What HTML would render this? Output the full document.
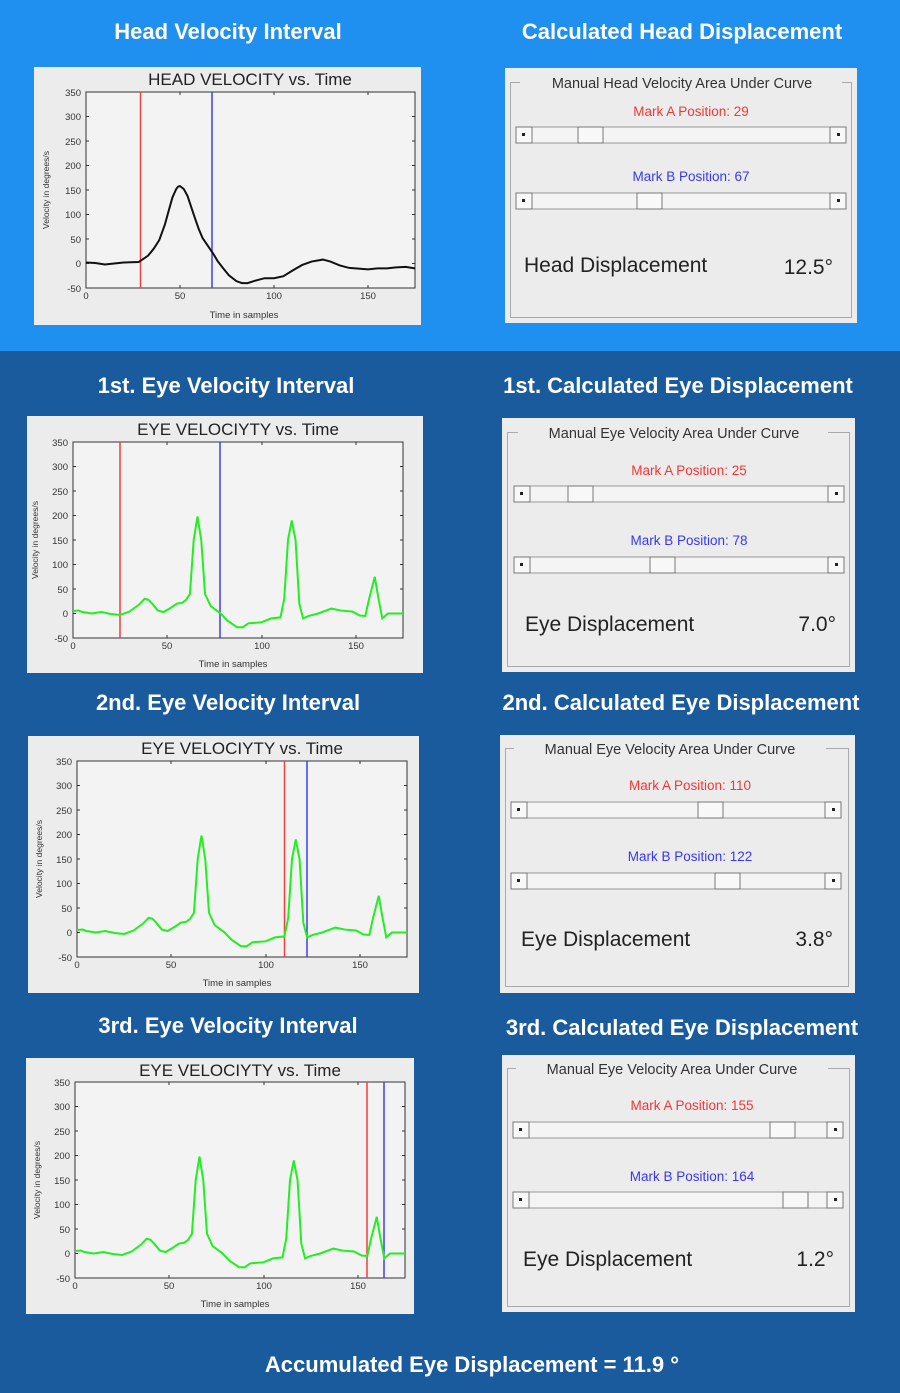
<!DOCTYPE html>
<html><head><meta charset="utf-8"><style>
html,body{margin:0;padding:0;width:900px;height:1393px;overflow:hidden;background:#1a5b9e}
svg{position:absolute;left:0;top:0;font-family:"Liberation Sans",sans-serif}
</style></head><body>
<svg width="900" height="1393" viewBox="0 0 900 1393">
<rect x="0" y="0" width="900" height="1393" fill="#1a5b9e"/>
<rect x="0" y="0" width="900" height="351" fill="#1f90f0"/>

<g fill="#fff" font-weight="bold" font-size="22" text-anchor="middle">
<text x="228" y="39">Head Velocity Interval</text>
<text x="682" y="39">Calculated Head Displacement</text>
<text x="226" y="393">1st. Eye Velocity Interval</text>
<text x="678" y="393">1st. Calculated Eye Displacement</text>
<text x="228" y="710">2nd. Eye Velocity Interval</text>
<text x="681" y="710">2nd. Calculated Eye Displacement</text>
<text x="228" y="1033">3rd. Eye Velocity Interval</text>
<text x="682" y="1035">3rd. Calculated Eye Displacement</text>
<text x="472" y="1372">Accumulated Eye Displacement = 11.9 °</text>
</g>

<g>
<rect x="34" y="67" width="387" height="258" fill="#ececec"/>
<rect x="86" y="92" width="329" height="196" fill="#f3f3f3" stroke="#333" stroke-width="1"/>
<text x="250" y="85" font-size="17" text-anchor="middle" fill="#222">HEAD VELOCITY vs. Time</text>
<g font-size="9.5" fill="#333" text-anchor="end">
<text x="81" y="96">350</text><text x="81" y="120">300</text><text x="81" y="145">250</text><text x="81" y="169">200</text><text x="81" y="194">150</text><text x="81" y="218">100</text><text x="81" y="243">50</text><text x="81" y="267">0</text><text x="81" y="292">-50</text>
</g>
<g font-size="9.5" fill="#333" text-anchor="middle">
<text x="86" y="299">0</text><text x="180" y="299">50</text><text x="274" y="299">100</text><text x="368" y="299">150</text>
<text x="244" y="318">Time in samples</text>
</g>
<text transform="translate(49,190) rotate(-90)" font-size="8.5" fill="#333" text-anchor="middle">Velocity in degrees/s</text>
<path stroke="#333" d="M86 116.5h3M86 141h3M86 165.5h3M86 190h3M86 214.5h3M86 239h3M86 263.5h3M415 116.5h-3M415 141h-3M415 165.5h-3M415 190h-3M415 214.5h-3M415 239h-3M415 263.5h-3M180 288v-3M274 288v-3M368 288v-3M180 92v3M274 92v3M368 92v3"/>
<line x1="140.5" y1="92" x2="140.5" y2="288" stroke="#f04040" stroke-width="1.5"/>
<line x1="212" y1="92" x2="212" y2="288" stroke="#4040f0" stroke-width="1.5"/>
<g transform="translate(86,288) scale(1.88,-0.49) translate(0,50)">
<polyline vector-effect="non-scaling-stroke" fill="none" stroke="#111" stroke-width="2" points="0,2 5,1 10,-2 15,0 20,2 28,3 30,8 33,16 36,30 39,48 42,80 44,108 46,135 48,152 49,157 50,158 52,152 54,138 56,115 58,92 60,70 62,52 65,35 68,18 70,5 73,-10 76,-24 80,-36 83,-40 86,-40 90,-35 95,-30 100,-30 105,-26 110,-14 115,-3 120,4 126,8 130,4 135,-4 140,-9 150,-12 155,-10 160,-10 165,-8 170,-7 175,-10"/>
</g>
</g>

<g>
<rect x="27" y="416" width="396" height="257" fill="#ececec"/>
<rect x="73" y="442" width="330" height="196" fill="#f3f3f3" stroke="#333"/>
<text x="238" y="435" font-size="17" text-anchor="middle" fill="#222">EYE VELOCIYTY vs. Time</text>
<g font-size="9.5" fill="#333" text-anchor="end">
<text x="68" y="446">350</text><text x="68" y="470">300</text><text x="68" y="495">250</text><text x="68" y="519">200</text><text x="68" y="544">150</text><text x="68" y="568">100</text><text x="68" y="593">50</text><text x="68" y="617">0</text><text x="68" y="642">-50</text>
</g>
<g font-size="9.5" fill="#333" text-anchor="middle">
<text x="73" y="649">0</text><text x="167" y="649">50</text><text x="262" y="649">100</text><text x="356" y="649">150</text>
<text x="233" y="667">Time in samples</text>
</g>
<text transform="translate(38,540) rotate(-90)" font-size="8.5" fill="#333" text-anchor="middle">Velocity in degrees/s</text>
<path stroke="#333" d="M73 466.5h3M73 491h3M73 515.5h3M73 540h3M73 564.5h3M73 589h3M73 613.5h3M403 466.5h-3M403 491h-3M403 515.5h-3M403 540h-3M403 564.5h-3M403 589h-3M403 613.5h-3M167 638v-3M262 638v-3M356 638v-3M167 442v3M262 442v3M356 442v3"/>
<line x1="120" y1="442" x2="120" y2="638" stroke="#f04040" stroke-width="1.5"/>
<line x1="220" y1="442" x2="220" y2="638" stroke="#4040f0" stroke-width="1.5"/>
<g transform="translate(73,638) scale(1.886,-0.49) translate(0,50)">
<polyline id="eye" vector-effect="non-scaling-stroke" fill="none" stroke="#22ee22" stroke-width="2" points="0,5 3,6 5,3 10,0 15,3 20,-1 25,-3 30,4 35,18 38,30 40,28 42,20 45,6 48,3 52,12 55,20 58,22 60,28 62,40 64,150 66,198 68,150 70,40 73,15 78,1 82,-15 87,-28 90,-28 93,-20 100,-18 105,-10 110,-8 112,30 114,150 116,190 118,150 120,20 122,-10 125,-5 130,0 137,10 142,6 148,4 152,-4 155,-5 157,30 160,75 162,30 164,-10 167,0 175,0"/>
</g>
</g>

<g>
<rect x="28" y="736" width="391" height="257" fill="#ececec"/>
<rect x="77" y="761" width="330" height="196" fill="#f3f3f3" stroke="#333"/>
<text x="242" y="754" font-size="17" text-anchor="middle" fill="#222">EYE VELOCIYTY vs. Time</text>
<g font-size="9.5" fill="#333" text-anchor="end">
<text x="72" y="765">350</text><text x="72" y="789">300</text><text x="72" y="814">250</text><text x="72" y="838">200</text><text x="72" y="863">150</text><text x="72" y="887">100</text><text x="72" y="912">50</text><text x="72" y="936">0</text><text x="72" y="961">-50</text>
</g>
<g font-size="9.5" fill="#333" text-anchor="middle">
<text x="77" y="968">0</text><text x="171" y="968">50</text><text x="266" y="968">100</text><text x="360" y="968">150</text>
<text x="237" y="986">Time in samples</text>
</g>
<text transform="translate(42,859) rotate(-90)" font-size="8.5" fill="#333" text-anchor="middle">Velocity in degrees/s</text>
<path stroke="#333" d="M77 785.5h3M77 810h3M77 834.5h3M77 859h3M77 883.5h3M77 908h3M77 932.5h3M407 785.5h-3M407 810h-3M407 834.5h-3M407 859h-3M407 883.5h-3M407 908h-3M407 932.5h-3M171 957v-3M266 957v-3M360 957v-3M171 761v3M266 761v3M360 761v3"/>
<line x1="284.5" y1="761" x2="284.5" y2="957" stroke="#f04040" stroke-width="1.5"/>
<line x1="307" y1="761" x2="307" y2="957" stroke="#4040f0" stroke-width="1.5"/>
<g transform="translate(77,957) scale(1.886,-0.49) translate(0,50)"><use href="#eye"/></g>
</g>

<g>
<rect x="26" y="1058" width="388" height="256" fill="#ececec"/>
<rect x="75" y="1082" width="330" height="196" fill="#f3f3f3" stroke="#333"/>
<text x="240" y="1076" font-size="17" text-anchor="middle" fill="#222">EYE VELOCIYTY vs. Time</text>
<g font-size="9.5" fill="#333" text-anchor="end">
<text x="70" y="1086">350</text><text x="70" y="1110">300</text><text x="70" y="1135">250</text><text x="70" y="1159">200</text><text x="70" y="1184">150</text><text x="70" y="1208">100</text><text x="70" y="1233">50</text><text x="70" y="1257">0</text><text x="70" y="1282">-50</text>
</g>
<g font-size="9.5" fill="#333" text-anchor="middle">
<text x="75" y="1289">0</text><text x="169" y="1289">50</text><text x="264" y="1289">100</text><text x="358" y="1289">150</text>
<text x="235" y="1307">Time in samples</text>
</g>
<text transform="translate(40,1180) rotate(-90)" font-size="8.5" fill="#333" text-anchor="middle">Velocity in degrees/s</text>
<path stroke="#333" d="M75 1106.5h3M75 1131h3M75 1155.5h3M75 1180h3M75 1204.5h3M75 1229h3M75 1253.5h3M405 1106.5h-3M405 1131h-3M405 1155.5h-3M405 1180h-3M405 1204.5h-3M405 1229h-3M405 1253.5h-3M169 1278v-3M264 1278v-3M358 1278v-3M169 1082v3M264 1082v3M358 1082v3"/>
<line x1="367" y1="1082" x2="367" y2="1278" stroke="#f04040" stroke-width="1.5"/>
<line x1="384" y1="1082" x2="384" y2="1278" stroke="#4040f0" stroke-width="1.5"/>
<g transform="translate(75,1278) scale(1.886,-0.49) translate(0,50)"><use href="#eye"/></g>
</g>

<g font-size="14.5" fill="#333">
<rect x="505" y="68" width="352" height="255" fill="#ececec"/>
<rect x="510.5" y="82.5" width="341" height="235" fill="none" stroke="#aaa"/>
<rect x="520" y="72" width="322" height="20" fill="#ececec"/>
<text x="682" y="88" text-anchor="middle">Manual Head Velocity Area Under Curve</text>
<text x="691" y="116" text-anchor="middle" fill="#f03838" font-size="13.5">Mark A Position: 29</text>
<text x="691" y="181" text-anchor="middle" fill="#3838f0" font-size="13.5">Mark B Position: 67</text>
<text x="524" y="272" font-size="21" fill="#222">Head Displacement</text>
<text x="833" y="274" font-size="21" fill="#222" text-anchor="end">12.5°</text>
<rect x="502" y="418" width="353" height="254" fill="#ececec"/>
<rect x="507.5" y="432.5" width="342" height="234" fill="none" stroke="#aaa"/>
<rect x="518" y="422" width="310" height="20" fill="#ececec"/>
<text x="674" y="438" text-anchor="middle">Manual Eye Velocity Area Under Curve</text>
<text x="689" y="475" text-anchor="middle" fill="#f03838" font-size="13.5">Mark A Position: 25</text>
<text x="689" y="545" text-anchor="middle" fill="#3838f0" font-size="13.5">Mark B Position: 78</text>
<text x="525" y="631" font-size="21" fill="#222">Eye Displacement</text>
<text x="836" y="631" font-size="21" fill="#222" text-anchor="end">7.0°</text>
<rect x="500" y="735" width="355" height="258" fill="#ececec"/>
<rect x="505.5" y="748.5" width="343" height="238" fill="none" stroke="#aaa"/>
<rect x="514" y="738" width="312" height="20" fill="#ececec"/>
<text x="670" y="754" text-anchor="middle">Manual Eye Velocity Area Under Curve</text>
<text x="690" y="790" text-anchor="middle" fill="#f03838" font-size="13.5">Mark A Position: 110</text>
<text x="690" y="861" text-anchor="middle" fill="#3838f0" font-size="13.5">Mark B Position: 122</text>
<text x="521" y="946" font-size="21" fill="#222">Eye Displacement</text>
<text x="833" y="946" font-size="21" fill="#222" text-anchor="end">3.8°</text>
<rect x="502" y="1055" width="353" height="257" fill="#ececec"/>
<rect x="507.5" y="1068.5" width="342" height="238" fill="none" stroke="#aaa"/>
<rect x="516" y="1058" width="312" height="20" fill="#ececec"/>
<text x="672" y="1074" text-anchor="middle">Manual Eye Velocity Area Under Curve</text>
<text x="692" y="1110" text-anchor="middle" fill="#f03838" font-size="13.5">Mark A Position: 155</text>
<text x="692" y="1181" text-anchor="middle" fill="#3838f0" font-size="13.5">Mark B Position: 164</text>
<text x="523" y="1266" font-size="21" fill="#222">Eye Displacement</text>
<text x="834" y="1266" font-size="21" fill="#222" text-anchor="end">1.2°</text>
</g>

<g stroke-width="1">
<g transform="translate(516,127)">
<rect x="0" y="0" width="330" height="16" fill="#f4f4f4" stroke="#999"/>
<rect x="0" y="0" width="16" height="16" fill="#f8f8f8" stroke="#777"/><rect x="314" y="0" width="16" height="16" fill="#f8f8f8" stroke="#777"/>
<rect x="6" y="6" width="3" height="3" fill="#222"/><rect x="321" y="6" width="3" height="3" fill="#222"/>
<rect x="62" y="0" width="25" height="16" fill="#f8f8f8" stroke="#777"/>
</g>
<g transform="translate(516,193)">
<rect x="0" y="0" width="330" height="16" fill="#f4f4f4" stroke="#999"/>
<rect x="0" y="0" width="16" height="16" fill="#f8f8f8" stroke="#777"/><rect x="314" y="0" width="16" height="16" fill="#f8f8f8" stroke="#777"/>
<rect x="6" y="6" width="3" height="3" fill="#222"/><rect x="321" y="6" width="3" height="3" fill="#222"/>
<rect x="121" y="0" width="25" height="16" fill="#f8f8f8" stroke="#777"/>
</g>
<g transform="translate(514,486)">
<rect x="0" y="0" width="330" height="16" fill="#f4f4f4" stroke="#999"/>
<rect x="0" y="0" width="16" height="16" fill="#f8f8f8" stroke="#777"/><rect x="314" y="0" width="16" height="16" fill="#f8f8f8" stroke="#777"/>
<rect x="6" y="6" width="3" height="3" fill="#222"/><rect x="321" y="6" width="3" height="3" fill="#222"/>
<rect x="54" y="0" width="25" height="16" fill="#f8f8f8" stroke="#777"/>
</g>
<g transform="translate(514,557)">
<rect x="0" y="0" width="330" height="16" fill="#f4f4f4" stroke="#999"/>
<rect x="0" y="0" width="16" height="16" fill="#f8f8f8" stroke="#777"/><rect x="314" y="0" width="16" height="16" fill="#f8f8f8" stroke="#777"/>
<rect x="6" y="6" width="3" height="3" fill="#222"/><rect x="321" y="6" width="3" height="3" fill="#222"/>
<rect x="136" y="0" width="25" height="16" fill="#f8f8f8" stroke="#777"/>
</g>
<g transform="translate(511,802)">
<rect x="0" y="0" width="330" height="16" fill="#f4f4f4" stroke="#999"/>
<rect x="0" y="0" width="16" height="16" fill="#f8f8f8" stroke="#777"/><rect x="314" y="0" width="16" height="16" fill="#f8f8f8" stroke="#777"/>
<rect x="6" y="6" width="3" height="3" fill="#222"/><rect x="321" y="6" width="3" height="3" fill="#222"/>
<rect x="187" y="0" width="25" height="16" fill="#f8f8f8" stroke="#777"/>
</g>
<g transform="translate(511,873)">
<rect x="0" y="0" width="330" height="16" fill="#f4f4f4" stroke="#999"/>
<rect x="0" y="0" width="16" height="16" fill="#f8f8f8" stroke="#777"/><rect x="314" y="0" width="16" height="16" fill="#f8f8f8" stroke="#777"/>
<rect x="6" y="6" width="3" height="3" fill="#222"/><rect x="321" y="6" width="3" height="3" fill="#222"/>
<rect x="204" y="0" width="25" height="16" fill="#f8f8f8" stroke="#777"/>
</g>
<g transform="translate(513,1122)">
<rect x="0" y="0" width="330" height="16" fill="#f4f4f4" stroke="#999"/>
<rect x="0" y="0" width="16" height="16" fill="#f8f8f8" stroke="#777"/><rect x="314" y="0" width="16" height="16" fill="#f8f8f8" stroke="#777"/>
<rect x="6" y="6" width="3" height="3" fill="#222"/><rect x="321" y="6" width="3" height="3" fill="#222"/>
<rect x="257" y="0" width="25" height="16" fill="#f8f8f8" stroke="#777"/>
</g>
<g transform="translate(513,1192)">
<rect x="0" y="0" width="330" height="16" fill="#f4f4f4" stroke="#999"/>
<rect x="0" y="0" width="16" height="16" fill="#f8f8f8" stroke="#777"/><rect x="314" y="0" width="16" height="16" fill="#f8f8f8" stroke="#777"/>
<rect x="6" y="6" width="3" height="3" fill="#222"/><rect x="321" y="6" width="3" height="3" fill="#222"/>
<rect x="270" y="0" width="25" height="16" fill="#f8f8f8" stroke="#777"/>
</g>
</g>
</svg>
</body></html>
